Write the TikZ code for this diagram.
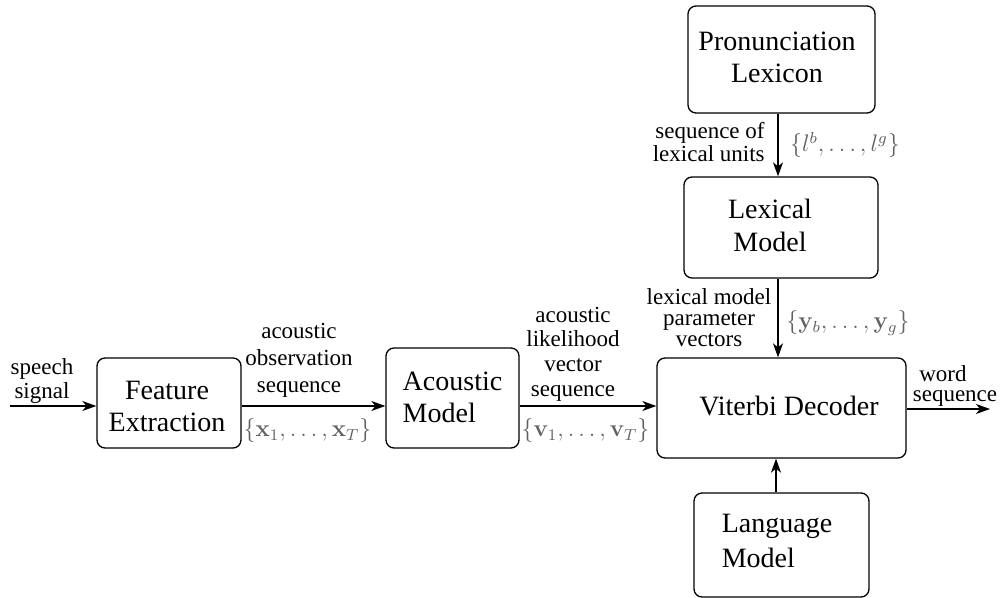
\documentclass[tikz,border=0pt]{standalone}
\usepackage[no-math]{fontspec}
\setmainfont{Liberation Serif}
\usetikzlibrary{arrows.meta,calc}
\definecolor{symgray}{gray}{0.38}
\begin{document}
\begin{tikzpicture}[x=0.5pt,y=-0.5pt,
  box/.style={draw,rounded corners=4pt,line width=0.65pt,inner sep=0pt},
  boxtext/.style={inner sep=0pt,font=\fontsize{14}{16}\selectfont,align=center},
  lab/.style={inner sep=0pt,align=center},
  sym/.style={inner sep=0pt,text=symgray,font=\fontsize{12}{14}\selectfont},
  flow/.style={line width=0.65pt,-{Stealth[length=7pt,width=5pt,inset=2pt]}}]
\useasboundingbox (0,0) rectangle (1006,598);

% processing blocks
\node[box,minimum width=72pt,minimum height=45pt]     (fe)   at (169,403)   {};
\node[box,minimum width=66.5pt,minimum height=50pt]   (am)   at (452.5,398) {};
\node[box,minimum width=124.5pt,minimum height=50pt]  (vd)   at (781.5,408) {};
\node[box,minimum width=87.5pt,minimum height=52pt]   (lang) at (781.5,545) {};
\node[box,minimum width=97pt,minimum height=50.5pt]   (lex)  at (781,227.5) {};
\node[box,minimum width=93.5pt,minimum height=53.5pt] (pl)   at (781.5,59.5) {};

% block titles
\node[boxtext] (fet)   at ($(fe)+(-2,3)$)      {Feature\\Extraction};
\node[boxtext,align=left] (amt) at ($(am)+(0,-1)$) {Acoustic\\Model};
\node[boxtext] (vdt)   at ($(vd)+(7.5,-2)$)    {Viterbi Decoder};
\node[boxtext,align=left,font=\fontsize{14}{17.5}\selectfont] (langt) at ($(lang)+(-4.5,-4)$) {Language\\Model};
\node[boxtext,font=\fontsize{14}{16.5}\selectfont] (lext) at ($(lex)+(-11,-2.5)$) {Lexical\\Model};
\node[boxtext] (plt)   at ($(pl)+(-4.5,-2.5)$) {Pronunciation\\Lexicon};

% connectors
\coordinate (sin)  at (10,406);
\coordinate (lvl)  at (0,406);
\coordinate (wout) at (990,409);
\coordinate (vx)   at (778,0);
\coordinate (lx)   at (776,0);
\draw[flow] (sin) -- (fe.west |- sin);
\draw[flow] (fe.east |- lvl) -- (am.west |- lvl);
\draw[flow] (am.east |- lvl) -- (vd.west |- lvl);
\draw[flow] (vd.east |- wout) -- (wout);
\draw[flow] (pl.south -| vx) -- (lex.north -| vx);
\draw[flow] (lex.south -| vx) -- (vd.north -| vx);
\draw[flow] (lang.north -| lx) -- (vd.south -| lx);

% connector labels
\node[lab,font=\fontsize{11.5}{12}\selectfont]   (l1) at (42,381)  {speech\\signal};
\node[lab,font=\fontsize{11.5}{13.5}\selectfont] (l2) at (299,360) {acoustic\\observation\\sequence};
\node[lab,font=\fontsize{11.5}{12.3}\selectfont] (l3) at (573,354) {acoustic\\likelihood\\vector\\sequence};
\node[lab,font=\fontsize{11.5}{10.2}\selectfont] (l4) at (955,386) {word\hspace*{12pt}\\sequence};
\node[lab,align=right,anchor=east,font=\fontsize{11.5}{9.8}\selectfont] (l5) at (765,142) {sequence of\\lexical units};
\node[lab,font=\fontsize{11.5}{10.5}\selectfont] (l6) at (709,318) {lexical model\\parameter\\vectors};

% symbol sequences
\node[sym] (s1) at (307.5,431) {$\{\mathbf{x}_1,\ldots,\mathbf{x}_T\}$};
\node[sym] (s2) at (585.5,431) {$\{\mathbf{v}_1,\ldots,\mathbf{v}_T\}$};
\node[sym] (s3) at (845,145)   {$\{l^b,\ldots,l^g\}$};
\node[sym] (s4) at (848,323)   {$\{\mathbf{y}_b,\ldots,\mathbf{y}_g\}$};
\end{tikzpicture}
\end{document}
